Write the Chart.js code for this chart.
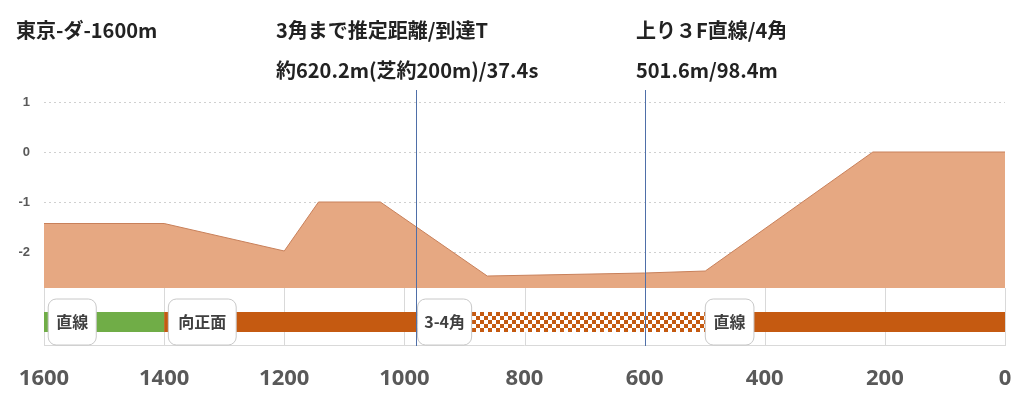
<!DOCTYPE html>
<html>
<head>
<meta charset="utf-8">
<script src="https://cdn.jsdelivr.net/npm/chart.js@4"></script>
<style>
  body { margin: 0; background: #fff; font-family: "Noto Sans CJK JP", "Noto Sans", sans-serif; }
  #wrap { position: relative; width: 1024px; height: 402px; }
  .ttl { position: absolute; font-size: 20px; font-weight: bold; color: #222; white-space: nowrap; }
</style>
</head>
<body>
<div id="wrap">
  <canvas id="c" width="1024" height="402"></canvas>
  <div class="ttl" style="left:16px;top:15px">東京-ダ-1600m</div>
  <div class="ttl" style="left:276px;top:15px">3角まで推定距離/到達T</div>
  <div class="ttl" style="left:276px;top:55px">約620.2m(芝約200m)/37.4s</div>
  <div class="ttl" style="left:636px;top:15px">上り３F直線/4角</div>
  <div class="ttl" style="left:636px;top:55px">501.6m/98.4m</div>
</div>
<script>
'use strict';

// Elevation profile (distance from finish, height)
const profileX = [1600, 1400, 1200, 1143, 1040, 862, 600, 499, 220, 0];
const profileY = [-1.43, -1.43, -1.98, -1.0, -1.0, -2.48, -2.42, -2.38, 0, 0];

// Course sections
const sectionFrom = [1600, 1400, 980, 499];
const sectionTo = [1400, 980, 499, 0];
const sectionStyle = ['green', 'orange', 'check', 'orange'];
const sectionLabels = ['直線', '向正面', '3-4角', '直線'];
const labelFrom = [1593, 1393, 978, 499];
const labelTo = [1513, 1280, 888, 418];

// Marker lines
const markerX = [980, 600];
const xTicks = [1600, 1400, 1200, 1000, 800, 600, 400, 200, 0];
const yTicks = [-2, -1, 0, 1];

const bandY = -3.4;
const baseY = -2.72;

function checkerPattern() {
    let p = document.createElement('canvas');
    p.width = 8; p.height = 8;
    let g = p.getContext('2d');
    g.fillStyle = '#fff'; g.fillRect(0, 0, 8, 8);
    g.fillStyle = '#c55a11';
    g.fillRect(0, 0, 4, 4); g.fillRect(4, 4, 4, 4);
    return g.createPattern(p, 'repeat');
}

const ctx = document.getElementById('c').getContext('2d');
const colors = { green: '#70ad47', orange: '#c55a11', check: checkerPattern() };

let datasets = [{
    data: profileX.map((x, i) => ({ x: x, y: profileY[i] })),
    borderColor: '#c8805a',
    borderWidth: 1,
    backgroundColor: '#e6a882',
    fill: { value: baseY },
    pointRadius: 0,
    order: 2
}];
for (let i = 0; i < sectionFrom.length; i++) {
    datasets.push({
        data: [{ x: sectionFrom[i], y: bandY }, { x: sectionTo[i], y: bandY }],
        borderColor: colors[sectionStyle[i]],
        borderWidth: 20,
        borderCapStyle: 'butt',
        pointRadius: 0,
        fill: false,
        order: 1
    });
}

const overlay = {
    id: 'overlay',
    beforeDatasetsDraw(chart) {
        const c = chart.ctx, xs = chart.scales.x, ys = chart.scales.y;
        c.save();
        c.strokeStyle = '#d9d9d9';
        c.lineWidth = 1;
        const top = ys.getPixelForValue(baseY), bot = chart.chartArea.bottom;
        xTicks.forEach(v => {
            const px = Math.round(xs.getPixelForValue(v)) + 0.5;
            c.beginPath(); c.moveTo(px, top); c.lineTo(px, bot); c.stroke();
        });
        c.beginPath(); c.moveTo(chart.chartArea.left, bot - 0.5); c.lineTo(chart.chartArea.right, bot - 0.5); c.stroke();
        c.restore();
    },
    afterDatasetsDraw(chart) {
        const c = chart.ctx, xs = chart.scales.x, ys = chart.scales.y;
        c.save();
        c.strokeStyle = '#4f6fa8';
        c.lineWidth = 1;
        markerX.forEach(v => {
            const px = Math.round(xs.getPixelForValue(v)) + 0.5;
            c.beginPath(); c.moveTo(px, chart.chartArea.top); c.lineTo(px, chart.chartArea.bottom); c.stroke();
        });
        const cy = ys.getPixelForValue(bandY);
        c.font = 'bold 16px "Noto Sans CJK JP"';
        c.textAlign = 'center';
        c.textBaseline = 'middle';
        sectionLabels.forEach((t, i) => {
            const x1 = xs.getPixelForValue(labelFrom[i]), x2 = xs.getPixelForValue(labelTo[i]);
            c.fillStyle = '#fff';
            c.strokeStyle = '#c8c8c8';
            c.beginPath();
            c.roundRect(x1, cy - 23, x2 - x1, 46, 8);
            c.fill(); c.stroke();
            c.fillStyle = '#404040';
            c.fillText(t, (x1 + x2) / 2, cy);
        });
        c.restore();
    }
};

new Chart(ctx, {
    type: 'line',
    data: { datasets: datasets },
    plugins: [overlay],
    options: {
        responsive: false,
        animation: false,
        layout: { padding: { top: 90, right: 19, left: 0, bottom: 0 } },
        plugins: { legend: { display: false }, tooltip: { enabled: false } },
        scales: {
            x: {
                type: 'linear',
                reverse: true,
                min: 0,
                max: 1600,
                afterBuildTicks: (s) => { s.ticks = xTicks.map(v => ({ value: v })); },
                afterFit: (s) => { s.height = 56; },
                grid: { display: false },
                border: { display: false },
                ticks: {
                    color: '#595959', font: { size: 22, weight: 'bold', family: 'Noto Sans' },
                    padding: 12, maxRotation: 0, callback: (v) => String(v)
                }
            },
            y: {
                min: -3.88,
                max: 1.24,
                afterBuildTicks: (s) => { s.ticks = yTicks.map(v => ({ value: v })); },
                afterFit: (s) => { s.width = 44; },
                grid: { color: '#d0d0d0', drawTicks: false },
                border: { display: false, dash: [2, 3] },
                ticks: { color: '#595959', font: { size: 13, weight: 'bold' }, padding: 14 }
            }
        }
    }
});
</script>
</body>
</html>
